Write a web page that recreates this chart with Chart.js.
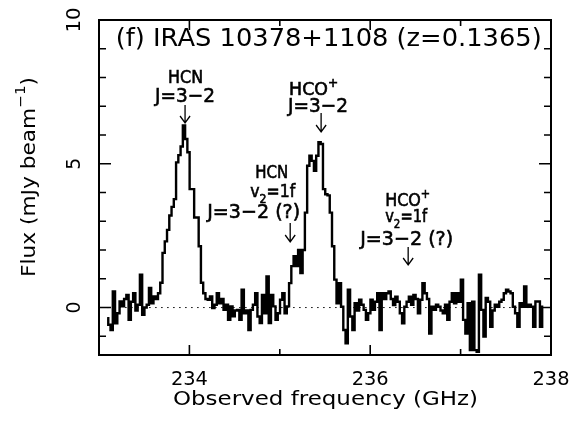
<!DOCTYPE html>
<html>
<head>
<meta charset="utf-8">
<script src="https://cdn.jsdelivr.net/npm/chart.js@4.4.1/dist/chart.umd.min.js"></script>
<style>
html, body { margin: 0; padding: 0; background: #fff; }
#wrap { width: 573px; height: 428px; }
</style>
</head>
<body>
<div id="wrap"><canvas id="spec"></canvas></div>
<script>
// Spectrum channels (observed frequency grid, GHz)
const chanStart = 233.09;
const chanWidth = 0.025;

// Flux per channel (mJy/beam)
const flux = [
  -0.37, -0.6, -0.78, 0.56, -0.55, -0.2, 0.21, 0.04, 0.3, 0.44,
  -0.43, 0.2, 0.5, -0.1, 0.1, 1.14, -0.25, 0.0, 0.1, 0.68,
  0.15, 0.39, 0.3, 0.5, 0.86, 1.9, 2.3, 2.7, 3.2, 3.5,
  3.77, 5.05, 5.3, 5.6, 6.33, 5.86, 5.4, 4.12, 4.12, 3.13,
  3.13, 2.13, 0.86, 0.5, 0.3, 0.27, 0.39, -0.02, 0.1, 0.5,
  0.15, 0.3, -0.08, 0.1, -0.43, 0.04, -0.3, -0.1, -0.08, -0.43,
  0.62, -0.2, -0.1, -0.78, -0.08, 0.1, 0.5, -0.31, -0.54, 0.44,
  -0.2, 1.08, -0.54, 0.44, 0.04, -0.43, -0.2, 0.27, 0.5, -0.2,
  0.04, 0.85, 1.44, 1.79, 1.44, 2.0, 1.2, 2.0, 3.3, 4.93,
  5.28, 5.1, 4.76, 5.28, 5.75, 5.69, 4.12, 3.94, 3.9, 3.3,
  2.13, 0.97, 0.15, 0.85, 0.03, -0.78, -1.24, 0.62, -0.31, -0.78,
  0.15, -0.1, 0.27, 0.1, -0.08, -0.43, -0.2, 0.27, -0.08, 0.2,
  0.5, -0.78, 0.5, 0.3, 0.5, 0.56, 0.3, 0.09, 0.38, 0.2,
  -0.2, -0.55, 0.03, 0.2, 0.38, 0.1, 0.44, 0.3, -0.2, 0.27,
  0.85, 0.5, 0.3, -0.9, 0.03, -0.08, 0.1, 0.03, -0.1, -0.2,
  0.1, -0.43, 0.2, 0.5, 0.15, 0.5, 0.2, 0.97, -0.43, -0.9,
  0.15, -1.48, 0.2, -1.48, -1.54, 1.14, -0.08, -1.01, 0.33, 0.2,
  -0.67, -0.1, 0.1, 0.03, 0.2, 0.27, 0.5, 0.62, 0.56, 0.5,
  0.03, -0.2, -0.67, 0.15, 0.03, 0.73, 0.03, 0.1, 0.03, -0.67,
  0.21, 0.21, -0.67, 0.03
];

// Axes
const xRange = [233, 238];
const yRange = [-1.65, 10];
const xLabelValues = [234, 236, 238];
const yLabelValues = [0, 5, 10];

// Line identifications (frequency of arrow, GHz)
const lineFreqs = [233.952, 235.457, 235.115, 236.42];

const FONT = "'DejaVu Sans', 'Liberation Sans', sans-serif";

const spectrum = flux.map((v, i) => ({ x: chanStart + chanWidth * i, y: v }));
const zeroLine = [
  { x: chanStart, y: 0 },
  { x: chanStart + chanWidth * (flux.length - 1), y: 0 }
];

function richWidth(ctx, segs, size, weight) {
  let w = 0;
  segs.forEach(s => {
    ctx.font = weight + ' ' + (size * (s.scale || 1)) + 'px ' + FONT;
    w += ctx.measureText(s.t).width;
  });
  return w;
}

function drawRich(ctx, segs, cx, cy, opt) {
  const size = opt.size;
  const weight = opt.weight || 'normal';
  const natural = richWidth(ctx, segs, size, weight);
  const sx = opt.width ? opt.width / natural : 1;
  ctx.save();
  ctx.translate(cx, cy);
  if (opt.rot) ctx.rotate(opt.rot);
  ctx.scale(sx, 1);
  ctx.fillStyle = '#000';
  ctx.strokeStyle = '#000';
  ctx.lineWidth = opt.stroke || 0;
  ctx.textBaseline = 'middle';
  ctx.textAlign = 'left';
  let x = -natural / 2;
  segs.forEach(s => {
    ctx.font = weight + ' ' + (size * (s.scale || 1)) + 'px ' + FONT;
    ctx.fillText(s.t, x, (s.dy || 0) * size);
    if (opt.stroke) ctx.strokeText(s.t, x, (s.dy || 0) * size);
    x += ctx.measureText(s.t).width;
  });
  ctx.restore();
}

function arrow(ctx, x, y0, y1) {
  ctx.save();
  ctx.strokeStyle = '#000';
  ctx.lineWidth = 1.3;
  ctx.beginPath();
  ctx.moveTo(x, y0);
  ctx.lineTo(x, y1);
  ctx.moveTo(x - 5, y1 - 7);
  ctx.lineTo(x, y1);
  ctx.lineTo(x + 5, y1 - 7);
  ctx.stroke();
  ctx.restore();
}

const T = s => ({ t: s });
const SUP = s => ({ t: s, scale: 0.7, dy: -0.4 });
const SUB = s => ({ t: s, scale: 0.7, dy: 0.38 });

const framePlugin = {
  id: 'pgframe',
  afterDraw(chart) {
    const ctx = chart.ctx;
    const a = chart.chartArea;
    const xs = chart.scales.x, ys = chart.scales.y;
    ctx.save();
    ctx.strokeStyle = '#000';
    ctx.lineWidth = 2;
    ctx.strokeRect(a.left, a.top, a.right - a.left, a.bottom - a.top);

    // inward ticks on all four sides
    ctx.lineWidth = 1.6;
    ctx.beginPath();
    for (let v = xRange[0]; v <= xRange[1]; v++) {
      const px = xs.getPixelForValue(v);
      const len = v % 2 === 0 ? 10 : 6;
      ctx.moveTo(px, a.bottom); ctx.lineTo(px, a.bottom - len);
      ctx.moveTo(px, a.top); ctx.lineTo(px, a.top + len);
    }
    for (let v = -1; v <= 10; v++) {
      const py = ys.getPixelForValue(v);
      const len = v % 5 === 0 ? 12 : 7;
      ctx.moveTo(a.left, py); ctx.lineTo(a.left + len, py);
      ctx.moveTo(a.right, py); ctx.lineTo(a.right - len, py);
    }
    ctx.stroke();
    ctx.restore();

    // tick labels
    xLabelValues.forEach(v => {
      drawRich(ctx, [T(String(v))], xs.getPixelForValue(v), 380, { size: 20, width: 37 });
    });
    yLabelValues.forEach(v => {
      drawRich(ctx, [T(String(v))], 74.5, ys.getPixelForValue(v), { size: 20, rot: -Math.PI / 2, width: v === 10 ? 25 : 12 });
    });

    // axis titles
    drawRich(ctx, [T('Observed frequency (GHz)')], 325.5, 400, { size: 20, width: 305 });
    drawRich(ctx, [T('Flux (mJy beam'), SUP('\u22121'), T(')')], 29.5, 177, { size: 20, rot: -Math.PI / 2, width: 200 });

    // title
    drawRich(ctx, [T('(f) IRAS 10378+1108 (z=0.1365)')], 328.7, 39, { size: 25, width: 426 });

    // line labels
    const nm = { size: 17, stroke: 0.6 };
    const jl = { size: 20, stroke: 0.6 };
    const f0 = xs.getPixelForValue(lineFreqs[0]);
    drawRich(ctx, [T('HCN')], f0 + 0.5, 79, Object.assign({ width: 35 }, nm));
    drawRich(ctx, [T('J=3\u22122')], f0, 97, Object.assign({ width: 60 }, jl));
    arrow(ctx, f0, 105, 123);

    const f1 = xs.getPixelForValue(lineFreqs[1]);
    drawRich(ctx, [T('HCO'), SUP('+')], f1 - 7.5, 90.5, Object.assign({ width: 49 }, nm));
    drawRich(ctx, [T('J=3\u22122')], f1 - 3, 106.5, Object.assign({ width: 60 }, jl));
    arrow(ctx, f1, 113, 132);

    const f2 = xs.getPixelForValue(lineFreqs[2]);
    drawRich(ctx, [T('HCN')], f2 - 18.5, 174, Object.assign({ width: 33 }, nm));
    drawRich(ctx, [T('v'), SUB('2'), T('=1f')], f2 - 17.5, 193, Object.assign({ width: 45 }, nm));
    drawRich(ctx, [T('J=3\u22122 (?)')], f2 - 36.5, 212.5, Object.assign({ width: 93 }, jl));
    arrow(ctx, f2, 223, 242);

    const f3 = xs.getPixelForValue(lineFreqs[3]);
    drawRich(ctx, [T('HCO'), SUP('+')], f3 - 0.5, 201.5, Object.assign({ width: 45 }, nm));
    drawRich(ctx, [T('v'), SUB('2'), T('=1f')], f3 - 2, 218, Object.assign({ width: 42 }, nm));
    drawRich(ctx, [T('J=3\u22122 (?)')], f3 - 1.5, 239.5, Object.assign({ width: 93 }, jl));
    arrow(ctx, f3, 247, 265);
  }
};

new Chart(document.getElementById('spec'), {
  type: 'line',
  data: {
    datasets: [
      {
        data: spectrum,
        stepped: 'middle',
        borderColor: '#000',
        borderWidth: 2.4,
        pointRadius: 0,
        fill: false
      },
      {
        data: zeroLine,
        borderColor: '#000',
        borderWidth: 1,
        borderDash: [1.5, 4.5],
        pointRadius: 0,
        fill: false
      }
    ]
  },
  options: {
    responsive: true,
    maintainAspectRatio: false,
    animation: false,
    layout: { padding: { left: 99, right: 22, top: 20, bottom: 73 } },
    plugins: { legend: { display: false }, tooltip: { enabled: false } },
    scales: {
      x: { type: 'linear', min: xRange[0], max: xRange[1], display: false },
      y: { type: 'linear', min: yRange[0], max: yRange[1], display: false }
    }
  },
  plugins: [framePlugin]
});
</script>
</body>
</html>
